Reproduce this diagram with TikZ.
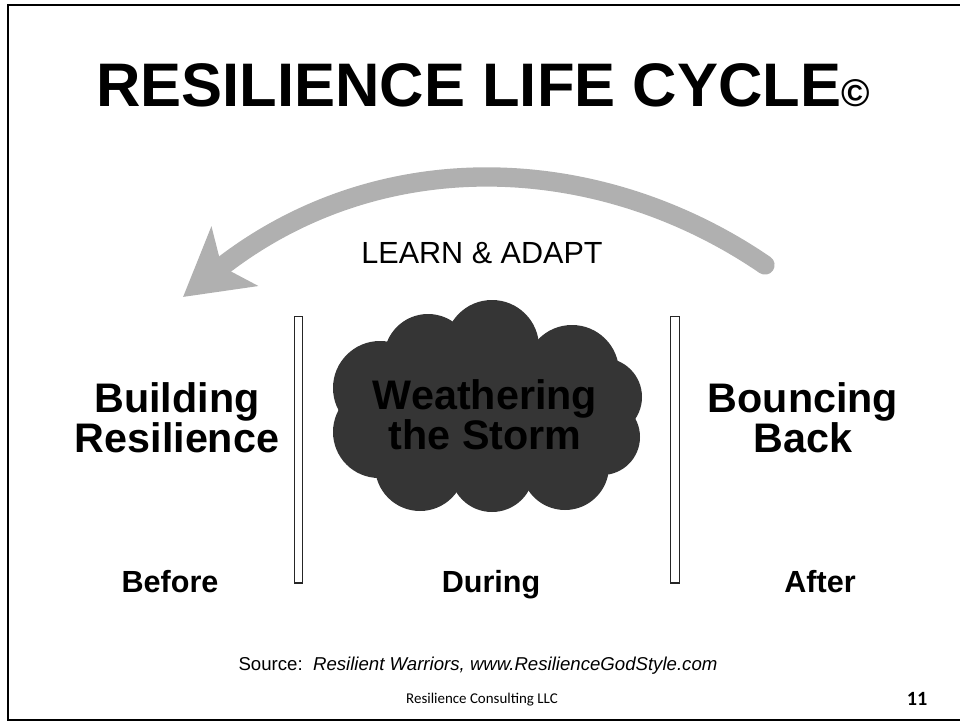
\documentclass[tikz,border=0pt]{standalone}
\usepackage{fontspec}
\setmainfont{Liberation Sans}
\newfontfamily\footfont{Carlito}
\usetikzlibrary{arrows.meta, positioning}
\definecolor{stormgray}{HTML}{353535}
\definecolor{arrowgray}{HTML}{B0B0B0}

\begin{document}
\begin{tikzpicture}[x=0.02cm, y=-0.02cm,
    phase/.style = {font=\bfseries\fontsize{23.5}{20}\selectfont, align=center, inner sep=0pt},
    when/.style = {font=\bfseries\fontsize{17.4}{20}\selectfont, anchor=base, inner sep=0pt},
    divider/.style = {draw=black!85, fill=white, line width=0.6pt, minimum width=0.17cm, minimum height=5.34cm, inner sep=0pt},
    puff/.style = {fill=stormgray}]
	\useasboundingbox (0,0) rectangle (960,723);
	\draw[line width=1.5pt] (8,5) rectangle (975,720);
	
	\node[font=\bfseries\fontsize{35}{35}\selectfont, anchor=base, inner sep=0pt] (title) at (483,107) {RESILIENCE LIFE CYCLE{\fontsize{22}{22}\selectfont\textcopyright}};
	
	% learn and adapt arrow
	\coordinate (from) at (765,265);
	\coordinate (to) at (183,297);
	\draw[arrowgray, line width=11pt, line cap=round, -{Stealth[length=37pt, width=42pt, inset=9pt]}] (from) .. controls (600,152) and (380,142) .. (to);
	\node[font=\fontsize{17.4}{20}\selectfont, anchor=base, inner sep=0pt] (learn) at (482,263) {LEARN \& ADAPT};
	
	\node[divider] (leftbar) at (298.5,449.5) {};
	\node[divider] (rightbar) at (675,449.5) {};
	
	% storm cloud
	\fill[puff] (487,410) ellipse [x radius=130, y radius=75];
	\foreach \cx/\cy/\r in {380/388/47, 428/358/44, 492/347/47, 572/372/47, 603/397/39,
	                        602/437/38, 565/466/44, 492/470/42, 420/466/45, 379/432/46}
		\fill[puff] (\cx,\cy) circle (\r);
	\node[phase] (during) at (485,415) {Weathering\\the Storm};
	
	\node[phase] (before) at (177,418) {Building\\Resilience};
	\node[phase] (after) at (803,418) {Bouncing\\Back};
	
	\node[when] (t1) at (170,592) {Before};
	\node[when] (t2) at (491,592) {During};
	\node[when] (t3) at (820,592) {After};
	
	\node[font=\fontsize{10.6}{12}\selectfont, anchor=base, inner sep=0pt] (source) at (478,670) {Source:\ \ \textit{Resilient Warriors, www.ResilienceGodStyle.com}};
	\node[font=\footfont\fontsize{8.5}{10}\selectfont, anchor=base, inner sep=0pt] (firm) at (482,703) {Resilience Consulting LLC};
	\node[font=\footfont\bfseries\fontsize{11.5}{12}\selectfont, anchor=base, inner sep=0pt] (page) at (917,705) {11};
\end{tikzpicture}
\end{document}
